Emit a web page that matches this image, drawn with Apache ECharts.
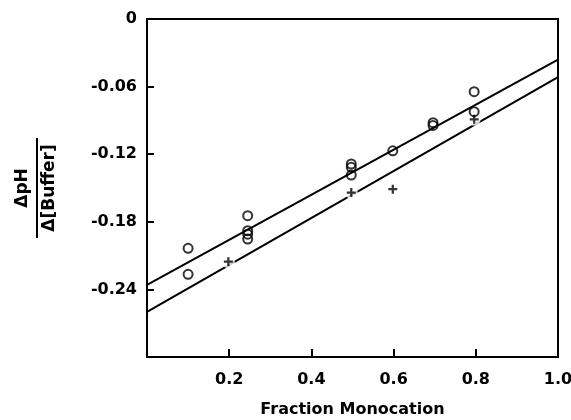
<!DOCTYPE html>
<html>
<head>
<meta charset="utf-8">
<script src="https://cdn.jsdelivr.net/npm/echarts@6/dist/echarts.min.js"></script>
<style>
  html, body { margin: 0; padding: 0; background: #fff; }
  #main { width: 571px; height: 420px; }
</style>
</head>
<body>
<div id="main"></div>
<script>
// open circles
var circles = [
    [0.100, -0.2035], [0.100, -0.2266],
    [0.245, -0.1746], [0.245, -0.1879], [0.245, -0.1910], [0.245, -0.1953],
    [0.497, -0.1287], [0.497, -0.1316], [0.497, -0.1385],
    [0.598, -0.1170],
    [0.696, -0.0920], [0.696, -0.0945],
    [0.796, -0.0645], [0.796, -0.0823]
];
// crosses
var pluses = [
    [0.198, -0.2154], [0.497, -0.1540], [0.598, -0.1510], [0.796, -0.0890]
];
// fitted lines (end points)
var upperFit = [[0, -0.236], [1, -0.036]];
var lowerFit = [[0, -0.260], [1, -0.0515]];

var font = 'DejaVu Sans';
var chart = echarts.init(document.getElementById('main'));

chart.setOption({
    animation: false,
    grid: {
        left: 147, right: 13, top: 19, bottom: 63,
        outerBoundsMode: 'none', containLabel: false,
        show: true, borderColor: '#000', borderWidth: 2
    },
    xAxis: {
        type: 'value', position: 'bottom', min: 0, max: 1, interval: 0.2,
        splitLine: {show: false},
        axisLine: {onZero: false, lineStyle: {color: '#000', width: 2}},
        // negative length: ticks point into the plot
        axisTick: {show: true, inside: false, length: -8, lineStyle: {color: '#000', width: 2}},
        axisLabel: {
            color: '#000', fontFamily: font, fontWeight: 'bold', fontSize: 16, margin: 15,
            formatter: function(v) {
                if (v === 0) return '';
                return v.toFixed(1);
            }
        },
        name: 'Fraction Monocation', nameLocation: 'middle', nameGap: 45,
        nameTextStyle: {color: '#000', fontFamily: font, fontWeight: 'bold', fontSize: 16}
    },
    yAxis: {
        type: 'value', position: 'left', min: -0.3, max: 0, interval: 0.06,
        splitLine: {show: false},
        axisLine: {onZero: false, lineStyle: {color: '#000', width: 2}},
        axisTick: {show: true, inside: false, length: -7, lineStyle: {color: '#000', width: 2}},
        axisLabel: {
            color: '#000', fontFamily: font, fontWeight: 'bold', fontSize: 16, margin: 10,
            formatter: function(v) {
                if (Math.abs(v) < 1e-9) return '0';
                if (Math.abs(v + 0.3) < 1e-9) return '';
                return v.toFixed(2);
            }
        }
    },
    // y axis title: vertical fraction  ΔpH / Δ[Buffer]
    graphic: [{
        type: 'group',
        x: 37, y: 188,
        rotation: Math.PI / 2,
        children: [
            {type: 'text', x: 0, y: -14,
             style: {text: '\u0394pH', fill: '#000', font: 'bold 17px ' + font,
                     align: 'center', verticalAlign: 'middle'}},
            {type: 'line', shape: {x1: -50, y1: 0, x2: 50, y2: 0},
             style: {stroke: '#000', lineWidth: 2}},
            {type: 'text', x: 0, y: 13,
             style: {text: '\u0394[Buffer]', fill: '#000', font: 'bold 17px ' + font,
                     align: 'center', verticalAlign: 'middle'}}
        ]
    }],
    series: [
        {
            type: 'line', data: upperFit, showSymbol: false, z: 1,
            lineStyle: {color: '#000', width: 2}
        },
        {
            type: 'line', data: lowerFit, showSymbol: false, z: 1,
            lineStyle: {color: '#000', width: 2}
        },
        {
            // white backing so the lower line breaks around the crosses
            type: 'scatter', data: pluses, symbol: 'circle', symbolSize: 13, z: 2,
            itemStyle: {color: '#fff'}, silent: true
        },
        {
            type: 'scatter', data: circles, symbol: 'circle', symbolSize: 9, z: 3,
            itemStyle: {color: 'rgba(0,0,0,0)', borderColor: '#000', borderWidth: 2}
        },
        {
            type: 'scatter', data: pluses, z: 4,
            symbol: 'path://M0,3 H8 V5 H0 Z M3,0 H5 V8 H3 Z', symbolSize: 9,
            itemStyle: {color: '#000'}
        }
    ]
});
</script>
</body>
</html>
